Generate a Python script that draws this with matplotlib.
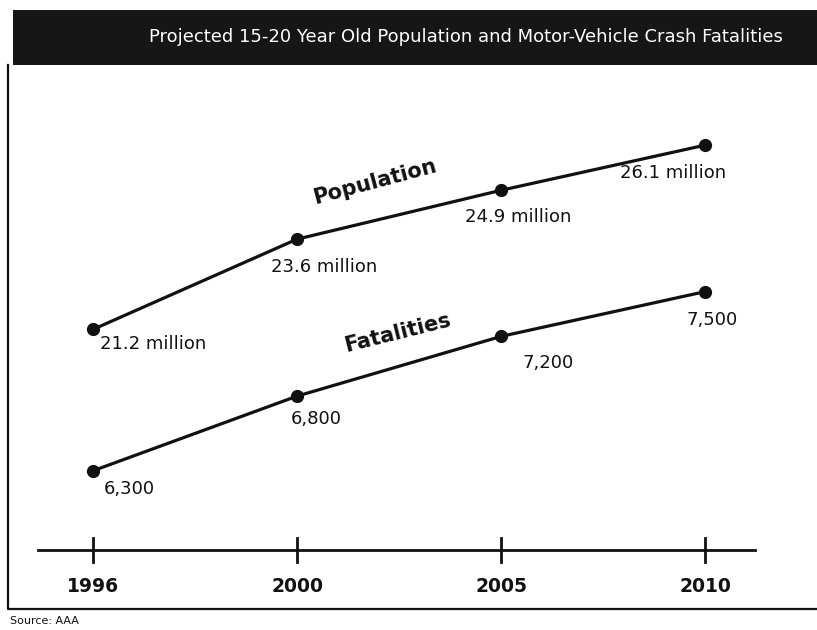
import matplotlib.pyplot as plt
from matplotlib.patches import Rectangle
from matplotlib.lines import Line2D

# Data
years = ['1996', '2000', '2005', '2010']
population = [21.2, 23.6, 24.9, 26.1]          # millions
fatalities = [6300, 6800, 7200, 7500]
pop_labels = ['21.2 million', '23.6 million', '24.9 million', '26.1 million']
fat_labels = ['6,300', '6,800', '7,200', '7,500']

title = 'Projected 15-20 Year Old Population and Motor-Vehicle Crash Fatalities'
source = 'Source: AAA'

W, H = 817, 630
fig = plt.figure(figsize=(W / 100, H / 100), dpi=100)
fig.patch.set_facecolor('white')


def fx(px):
    return px / W


def fy(py):
    return 1 - py / H


# axes spans pixel x 38..755 and y 70..550
ax = fig.add_axes([fx(38), fy(550), fx(755) - fx(38), fy(70) - fy(550)])
ax2 = ax.twinx()
for a in (ax, ax2):
    a.set_facecolor('none')
    for s in a.spines.values():
        s.set_visible(False)
    a.set_yticks([])
ax.patch.set_visible(False)

xs = list(range(len(years)))
ax.set_xlim(-0.27, 3.245)
ax.set_ylim(15.33, 28.10)
ax2.set_ylim(5769, 8985)

ax.plot(xs, population, color='#111111', lw=2.3, marker='o', markersize=8.5,
        solid_capstyle='round', zorder=3)
ax2.plot(xs, fatalities, color='#111111', lw=2.3, marker='o', markersize=8.5,
         solid_capstyle='round', zorder=3)

lab_kw = dict(fontsize=13, color='#111111', family='DejaVu Sans')
pop_off = [(7, -15), (-26, -28), (-36, -27), (-85, -28)]
for x, v, t, (dx, dy) in zip(xs, population, pop_labels, pop_off):
    ax.annotate(t, (x, v), xytext=(dx, dy), textcoords='offset pixels',
                ha='left', va='center', **lab_kw)
fat_off = [(11, -18), (-6, -23), (21, -27), (-19, -28)]
for x, v, t, (dx, dy) in zip(xs, fatalities, fat_labels, fat_off):
    ax2.annotate(t, (x, v), xytext=(dx, dy), textcoords='offset pixels',
                 ha='left', va='center', **lab_kw)

# series names along the lines
fig.text(fx(375), fy(182), 'Population', rotation=15, fontsize=15,
         fontweight='bold', ha='center', va='center', color='#111111')
fig.text(fx(398), fy(333), 'Fatalities', rotation=14, fontsize=15,
         fontweight='bold', ha='center', va='center', color='#111111')

# x axis line with crossing ticks
ax.set_xticks([])
ybase = ax.get_ylim()[0]
ax.axhline(ybase, xmin=0, xmax=1, color='#111111', lw=2, clip_on=False)
for x, yr in zip(xs, years):
    ax.plot([x, x], [ybase - 0.33, ybase + 0.33], color='#111111', lw=2,
            clip_on=False)
    ax.annotate(yr, (x, ybase), xytext=(0, -37), textcoords='offset pixels',
                ha='center', va='center', fontsize=13.5, fontweight='bold',
                color='#111111', annotation_clip=False)

# title bar
fig.patches.append(Rectangle((fx(13), fy(65)), 1 - fx(13), fy(10) - fy(65),
                             transform=fig.transFigure, facecolor='#161616',
                             edgecolor='none'))
fig.text(fx(466), fy(37), title, color='white', fontsize=13,
         family=['Liberation Sans Narrow', 'DejaVu Sans'],
         ha='center', va='center')

# frame lines left and bottom
fig.lines.append(Line2D([fx(8), fx(8), 1], [fy(65), fy(609), fy(609)],
                        transform=fig.transFigure, color='#111111', lw=1.6))
fig.text(fx(10), fy(621), source, fontsize=8, color='#111111',
         family=['Liberation Sans Narrow', 'DejaVu Sans'], ha='left', va='center')

fig.savefig('out.png', dpi=100)
